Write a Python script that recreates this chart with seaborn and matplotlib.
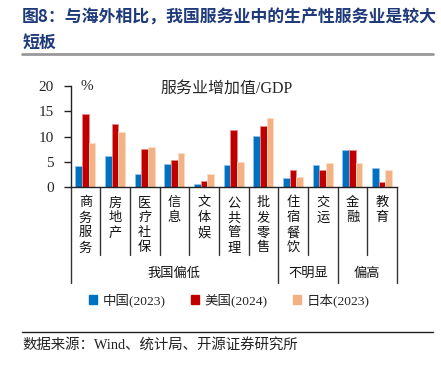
import matplotlib
matplotlib.use("Agg")
import matplotlib.pyplot as plt
import matplotlib.transforms as mtransforms
from matplotlib.lines import Line2D
from matplotlib.patches import Patch
import seaborn as sns
import pandas as pd

categories = ["商务服务", "房地产", "医疗社保", "信息", "文体娱", "公共管理", "批发零售",
              "住宿餐饮", "交运", "金融", "教育"]
china_2023 = [4.2, 6.25, 2.55, 4.7, 0.7, 4.4, 10.2, 1.85, 4.4, 7.3, 3.9]
usa_2024 = [14.4, 12.5, 7.55, 5.3, 1.25, 11.25, 12.1, 3.35, 3.35, 7.37, 1.1]
japan_2023 = [8.8, 10.9, 7.9, 6.7, 2.6, 5.0, 13.75, 2.0, 4.8, 4.8, 3.35]
series_names = ["中国(2023)", "美国(2024)", "日本(2023)"]
groups = [("我国偏低", 0, 6), ("不明显", 7, 8), ("偏高", 9, 10)]
y_ticks = [0, 5, 10, 15, 20]

colors = ["#0070C0", "#C00000", "#F4B183"]
edge_colors = ["#8EC3EA", "#E88A8A", "#FBDCC6"]

sns.set_theme(style="ticks")
FONT = ["Liberation Serif", "Noto Sans CJK SC", "DejaVu Sans"]
plt.rcParams["font.family"] = FONT

df = pd.DataFrame({
    "cat": categories * 3,
    "series": sum([[s] * len(categories) for s in series_names], []),
    "val": china_2023 + usa_2024 + japan_2023,
})

fig = plt.figure(figsize=(4.41, 3.68), dpi=100)
ax = fig.add_axes([0.160, 0.491, 0.740, 0.275])
sns.barplot(data=df, x="cat", y="val", hue="series", order=categories,
            hue_order=series_names, palette=colors, width=0.68, ax=ax,
            legend=False, linewidth=0.6, saturation=1)
for i, cont in enumerate(ax.containers):
    for b in cont:
        b.set_edgecolor(edge_colors[i])

ax.set_xlim(-0.5, len(categories) - 0.5)
ax.set_ylim(0, 20)
ax.set_yticks(y_ticks)
ax.set_yticklabels([str(t) for t in y_ticks], fontsize=11, family="Liberation Serif")
ax.set_xticks([])
ax.set_xlabel("")
ax.set_ylabel("")
for s in ["top", "right"]:
    ax.spines[s].set_visible(False)
for s in ["left", "bottom"]:
    ax.spines[s].set_color("#222222")
    ax.spines[s].set_linewidth(1.0)
ax.tick_params(axis="y", length=5, width=1.0, color="#222222", pad=7)

trans = mtransforms.blended_transform_factory(ax.transData, ax.transAxes)
group_edges = {-0.5} | {g[2] + 0.5 for g in groups}
for k in range(len(categories) + 1):
    xb = k - 0.5
    y_end = -0.945 if xb in group_edges else -0.67
    ax.add_line(Line2D([xb, xb], [0, y_end], transform=trans, color="#333333",
                       lw=1.0, clip_on=False))

for i, c in enumerate(categories):
    ax.text(i, -0.09, "\n".join(c), transform=trans, ha="center", va="top",
            fontsize=9.5, family=["Noto Sans CJK SC"], linespacing=1.2, color="#111111")

for name, a, b in groups:
    ax.text((a + b) / 2, -0.855, name, transform=trans, ha="center", va="center",
            fontsize=9.5, family=["Noto Sans CJK SC"], color="#111111")

ax.text(0.03, 1.0, "%", transform=ax.transAxes, ha="left", va="center",
        fontsize=11, family="Liberation Serif")
fig.text(0.513, 0.758, "服务业增加值/GDP", ha="center", va="center", fontsize=11.5,
         family=["Liberation Serif", "Noto Sans CJK SC"])

handles = [Patch(facecolor=c, edgecolor=c) for c in colors]
fig.legend(handles, series_names, loc="center", bbox_to_anchor=(0.52, 0.183), ncol=3,
           frameon=False, handlelength=0.6, handleheight=0.6,
           handletextpad=0.4, columnspacing=1.9,
           prop={"family": ["Liberation Serif", "Noto Sans CJK SC"], "size": 9.7})

fig.text(0.05, 0.953, "图8：与海外相比，我国服务业中的生产性服务业是较大", ha="left", va="center",
         fontsize=12.2, fontweight="bold", color="#1F3A7A", family=["Noto Sans CJK SC"])
fig.text(0.05, 0.883, "短板", ha="left", va="center",
         fontsize=12.2, fontweight="bold", color="#1F3A7A", family=["Noto Sans CJK SC"])
fig.add_artist(Line2D([0.05, 0.982], [0.853, 0.853], transform=fig.transFigure,
                      color="#999999", lw=2))
fig.add_artist(Line2D([0.05, 0.982], [0.098, 0.098], transform=fig.transFigure,
                      color="#222222", lw=1))
fig.text(0.05, 0.062, "数据来源：Wind、统计局、开源证券研究所", ha="left", va="center",
         fontsize=10.4, color="#222222", family=["Liberation Serif", "Noto Sans CJK SC"])

fig.savefig("out.png", dpi=100)
